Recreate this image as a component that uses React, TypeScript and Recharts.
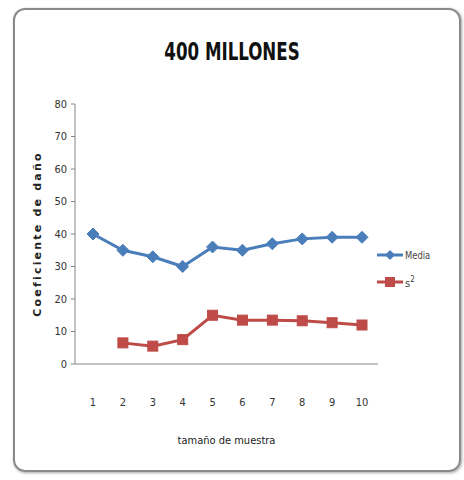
import { LineChart, Line, XAxis, YAxis, Label } from "recharts";

const sizes = ["1", "2", "3", "4", "5", "6", "7", "8", "9", "10"];
const media = [40, 35, 33, 30, 36, 35, 37, 38.5, 39, 39];
const varianza = [null, 6.5, 5.5, 7.5, 15, 13.5, 13.5, 13.3, 12.7, 12];
const yTicks = [0, 10, 20, 30, 40, 50, 60, 70, 80];

const data = sizes.map((s, i) => ({ n: s, media: media[i], s2: varianza[i] }));

const BLUE = "#4a7ebb";
const RED = "#be4b48";
const FONT = "'DejaVu Sans Condensed', 'Liberation Sans Narrow', sans-serif";

const Diamond = (props: any) => {
  const { cx, cy } = props;
  if (cx == null || cy == null) return null;
  const r = 6;
  return (
    <path
      d={`M${cx},${cy - r}L${cx + r},${cy}L${cx},${cy + r}L${cx - r},${cy}Z`}
      fill={BLUE}
      stroke={BLUE}
    />
  );
};

const Square = (props: any) => {
  const { cx, cy, value } = props;
  if (cx == null || cy == null || value == null) return null;
  const r = 5;
  return <rect x={cx - r} y={cy - r} width={2 * r} height={2 * r} fill={RED} stroke={RED} />;
};

const LegendBox = () => (
  <div style={{ fontFamily: FONT, fontSize: 11, color: "#444" }}>
    <div style={{ display: "flex", alignItems: "center", height: 20 }}>
      <svg width={26} height={14}>
        <line x1={0} y1={7} x2={26} y2={7} stroke={BLUE} strokeWidth={3} />
        <path d="M13,2L18,7L13,12L8,7Z" fill={BLUE} />
      </svg>
      <span style={{ marginLeft: 2, transform: "scaleX(0.85)", transformOrigin: "left" }}>Media</span>
    </div>
    <div style={{ display: "flex", alignItems: "center", height: 20, marginTop: 7 }}>
      <svg width={26} height={14}>
        <line x1={0} y1={7} x2={26} y2={7} stroke={RED} strokeWidth={3} />
        <rect x={8} y={2} width={10} height={10} fill={RED} />
      </svg>
      <span style={{ marginLeft: 2 }}>
        s<sup style={{ fontSize: 8 }}>2</sup>
      </span>
    </div>
  </div>
);

export default function App() {
  return (
    <div style={{ position: "absolute", left: 0, top: 0, width: 464, height: 480, background: "#fff" }}>
      <div
        style={{
          position: "absolute",
          left: 13,
          top: 8,
          width: 444,
          height: 460,
          border: "2px solid #8a8a8a",
          borderRadius: 12,
          boxShadow: "1px 1px 3px rgba(0,0,0,0.35)",
        }}
      />
      <div
        style={{
          position: "absolute",
          left: 0,
          top: 37,
          width: 464,
          textAlign: "center",
          fontFamily: FONT,
          fontWeight: "bold",
          fontSize: 25,
          color: "#111",
          transform: "scaleX(0.74)",
        }}
      >
        400 MILLONES
      </div>
      <div style={{ position: "absolute", left: 0, top: 0 }}>
        <LineChart
          width={464}
          height={480}
          data={data}
          margin={{ top: 104, right: 86, bottom: 26, left: 45 }}
        >
          <XAxis
            dataKey="n"
            height={90}
            padding={{ left: 18, right: 16 }}
            tickLine={false}
            tickMargin={28}
            stroke="#868686"
            tick={{ fill: "#333", fontSize: 11, fontFamily: FONT }}
          >
            <Label
              value="tamaño de muestra"
              position="insideBottom"
              offset={10}
              style={{ fill: "#222", fontSize: 11, fontFamily: FONT }}
            />
          </XAxis>
          <YAxis
            width={30}
            domain={[0, 80]}
            ticks={yTicks}
            interval={0}
            tickSize={4}
            tickMargin={4}
            stroke="#868686"
            tick={{ fill: "#333", fontSize: 11, fontFamily: FONT }}
          >
            <Label
              content={(p: any) => {
                const vb = p.viewBox || {};
                const cy = vb.y + vb.height / 2;
                return (
                  <text
                    x={37}
                    y={cy}
                    transform={`rotate(-90 37 ${cy})`}
                    textAnchor="middle"
                    dominantBaseline="central"
                    style={{
                      fontFamily: "'DejaVu Sans', sans-serif",
                      fontWeight: "bold",
                      fontSize: 11,
                      letterSpacing: 2.2,
                      fill: "#222",
                    }}
                  >
                    Coeficiente de daño
                  </text>
                );
              }}
            />
          </YAxis>
          <Line
            dataKey="media"
            stroke={BLUE}
            strokeWidth={3}
            dot={<Diamond />}
            activeDot={false}
            isAnimationActive={false}
          />
          <Line
            dataKey="s2"
            stroke={RED}
            strokeWidth={3}
            dot={<Square />}
            activeDot={false}
            isAnimationActive={false}
          />
        </LineChart>
      </div>
      <div style={{ position: "absolute", left: 377, top: 245 }}>
        <LegendBox />
      </div>
    </div>
  );
}
